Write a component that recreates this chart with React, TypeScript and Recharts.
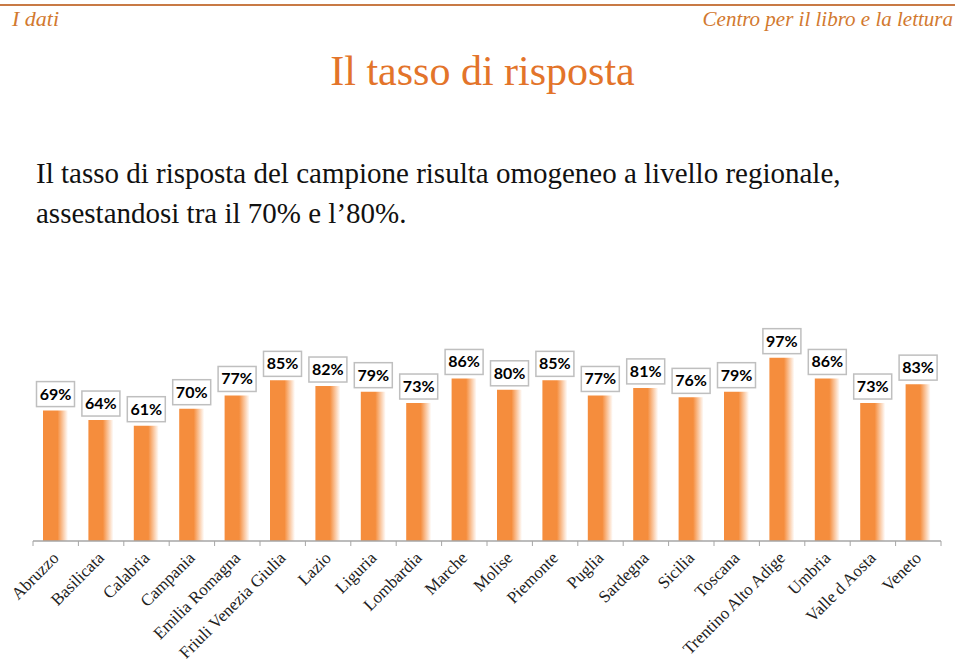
import React from 'react';
import { BarChart, Bar, XAxis, YAxis, LabelList } from 'recharts';

const regions = [
  'Abruzzo', 'Basilicata', 'Calabria', 'Campania', 'Emilia Romagna',
  'Friuli Venezia Giulia', 'Lazio', 'Liguria', 'Lombardia', 'Marche',
  'Molise', 'Piemonte', 'Puglia', 'Sardegna', 'Sicilia', 'Toscana',
  'Trentino Alto Adige', 'Umbria', 'Valle d Aosta', 'Veneto',
];
const rates = [69, 64, 61, 70, 77, 85, 82, 79, 73, 86, 80, 85, 77, 81, 76, 79, 97, 86, 73, 83];

const data = regions.map((name, i) => ({ name, value: rates[i] }));

const W = 960;
const H = 663;
const PLOT_LEFT = 33;
const PLOT_RIGHT = 941;
const PLOT_TOP = 352;
const PLOT_BOTTOM = 541;
const BAND = (PLOT_RIGHT - PLOT_LEFT) / regions.length;

const ORANGE = '#F58D3D';
const SERIF = 'Liberation Serif';

// category label rotated at -45deg, plus Excel-style tick marks between bands
const RegionTick = (props: any) => {
  const { x, y, payload, index } = props;
  const ax = x + 4;
  const ay = y + 18;
  return (
    <g>
      <line x1={x - BAND / 2} y1={y} x2={x - BAND / 2} y2={y + 5} stroke="#A6A6A6" />
      {index === regions.length - 1 && (
        <line x1={x + BAND / 2} y1={y} x2={x + BAND / 2} y2={y + 5} stroke="#A6A6A6" />
      )}
      <text
        x={ax}
        y={ay}
        textAnchor="end"
        transform={`rotate(-45, ${ax}, ${ay})`}
        style={{ fontFamily: SERIF, fontSize: 17 }}
        fill="#222"
      >
        {payload.value}
      </text>
    </g>
  );
};

const ValueBox = (props: any) => {
  const { x, y, width, value } = props;
  const cx = x + width / 2;
  const boxW = 38;
  const boxH = 25;
  const bottom = y - 4;
  return (
    <g>
      <rect x={cx - boxW / 2} y={bottom - boxH} width={boxW} height={boxH} fill="#fff" stroke="#BFBFBF" strokeWidth={1.5} />
      <text
        x={cx}
        y={bottom - 7}
        textAnchor="middle"
        style={{ fontFamily: 'Lato', fontWeight: 700, fontSize: 16 }}
        fill="#000"
      >
        {`${value}%`}
      </text>
    </g>
  );
};

export default function App() {
  return (
    <div style={{ position: 'absolute', left: 0, top: 0, width: W, height: H, background: '#fff', overflow: 'hidden' }}>
      <div style={{ position: 'absolute', left: 0, top: 0 }}>
        <BarChart
          width={W}
          height={H}
          data={data}
          margin={{ top: PLOT_TOP, right: W - PLOT_RIGHT, bottom: 0, left: PLOT_LEFT }}
          barCategoryGap={0}
        >
          <defs>
            <linearGradient id="barFade" x1="0" y1="0" x2="1" y2="0">
              <stop offset="0%" stopColor={ORANGE} />
              <stop offset="58%" stopColor={ORANGE} />
              <stop offset="100%" stopColor={ORANGE} stopOpacity={0} />
            </linearGradient>
          </defs>
          <XAxis
            dataKey="name"
            interval={0}
            height={H - PLOT_BOTTOM}
            tickSize={0}
            tickMargin={0}
            tickLine={false}
            axisLine={{ stroke: '#A6A6A6', strokeWidth: 1.5 }}
            tick={<RegionTick />}
          />
          <YAxis hide domain={[0, 100]} />
          <Bar dataKey="value" barSize={25} fill="url(#barFade)" isAnimationActive={false}>
            <LabelList dataKey="value" content={<ValueBox />} />
          </Bar>
        </BarChart>
      </div>
      <svg width={W} height={H} style={{ position: 'absolute', left: 0, top: 0, pointerEvents: 'none' }}>
        <line x1={0} y1={5} x2={955} y2={5} stroke="#C87A45" strokeWidth={2} />
        <text x={12} y={26} style={{ fontFamily: SERIF, fontStyle: 'italic', fontSize: 22 }} fill="#D2792F">
          I dati
        </text>
        <text x={953} y={26} textAnchor="end" style={{ fontFamily: SERIF, fontStyle: 'italic', fontSize: 21 }} fill="#D2792F">
          Centro per il libro e la lettura
        </text>
        <text x={482.5} y={85} textAnchor="middle" style={{ fontFamily: SERIF, fontSize: 42 }} fill="#E3742A">
          Il tasso di risposta
        </text>
        <text x={36} y={183} style={{ fontFamily: SERIF, fontSize: 29 }} fill="#111">
          Il tasso di risposta del campione risulta omogeneo a livello regionale,
        </text>
        <text x={36} y={223} style={{ fontFamily: SERIF, fontSize: 29 }} fill="#111">
          assestandosi tra il 70% e l’80%.
        </text>
      </svg>
    </div>
  );
}
